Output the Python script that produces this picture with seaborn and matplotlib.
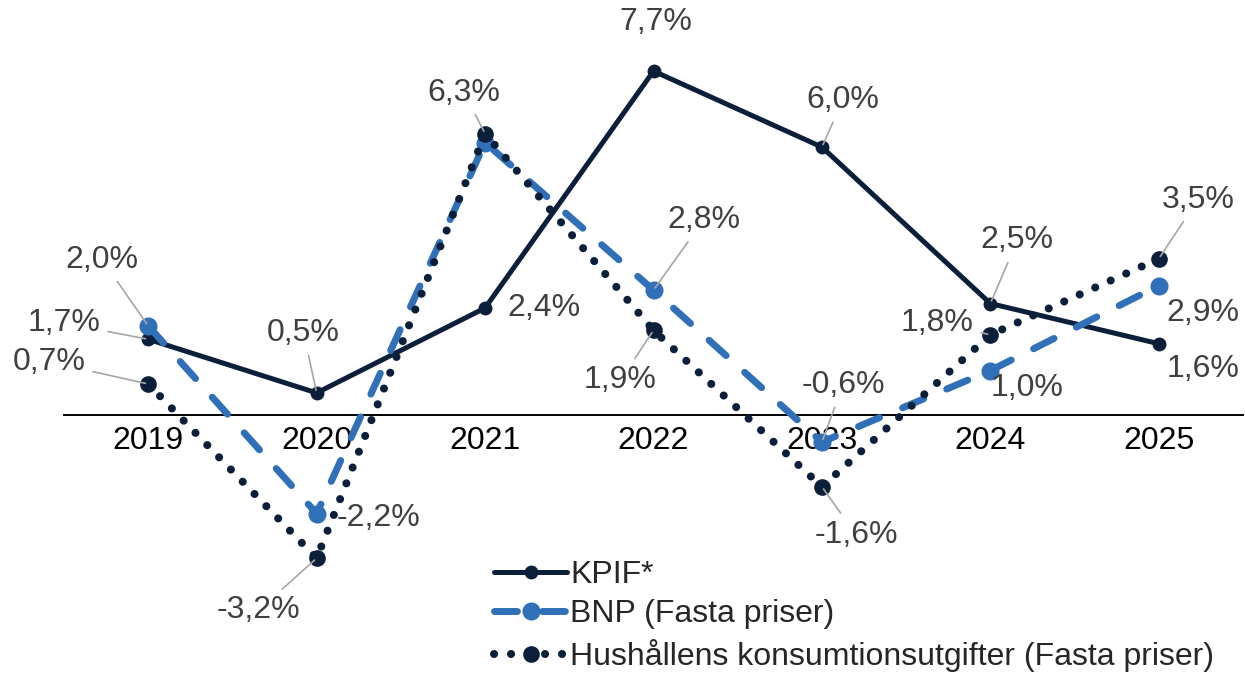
import matplotlib
matplotlib.use("Agg")
import matplotlib.pyplot as plt
import seaborn as sns
import pandas as pd

years = ["2019", "2020", "2021", "2022", "2023", "2024", "2025"]
kpif = [1.7, 0.5, 2.4, 7.7, 6.0, 2.5, 1.6]
bnp = [2.0, -2.2, 6.1, 2.8, -0.6, 1.0, 2.9]
hush = [0.7, -3.2, 6.3, 1.9, -1.6, 1.8, 3.5]
bnp_show = [True, True, False, True, True, True, True]
series_names = ["KPIF*", "BNP (Fasta priser)", "Hushållens konsumtionsutgifter (Fasta priser)"]

# label offsets in pixels (dx, dy up), and whether leader line drawn
kpif_off = [(-84, 16, True), (-13, 60, True), (59, 0, False), (2, 49, False),
            (21, 47, True), (27, 63, True), (44, -25, False)]
bnp_off = [(-46, 66, True), (62, -4, False), (0, 0, False), (50, 70, True),
           (21, 57, True), (37, -17, False), (44, -27, False)]
hush_off = [(-99, 22, True), (-58, -52, True), (-21, 41, True), (-33, -50, True),
            (34, -48, True), (-53, 12, True), (39, 59, True)]

sns.set_theme(style="white")
plt.rcParams["font.family"] = ["Liberation Sans", "DejaVu Sans"]

navy = "#0b1f3a"
blue = "#3070b8"
grey_txt = "#404040"
FS = 23

fig = plt.figure(figsize=(12.45, 6.75), dpi=100)
ax = fig.add_axes([64 / 1245, 1 - 594 / 675, (1243 - 64) / 1245, (594 - 13) / 675])

x = list(range(len(years)))
df = pd.DataFrame({"x": x, "kpif": kpif, "bnp": bnp, "hush": hush})

sns.lineplot(data=df, x="x", y="kpif", ax=ax, color=navy, lw=3.6, marker="o",
             markersize=10, markeredgewidth=0, label=series_names[0], zorder=3)
l1 = ax.lines[-1]
sns.lineplot(data=df, x="x", y="bnp", ax=ax, color=blue, lw=5, marker="o",
             markersize=13, markeredgewidth=0, label=series_names[1], zorder=4)
l2 = ax.lines[-1]
l2.set_dashes((3.3, 3.6))
l2.set_dash_capstyle("round")
sns.lineplot(data=df, x="x", y="hush", ax=ax, color=navy, lw=5.8, marker="o",
             markersize=12, markeredgewidth=0, label=series_names[2], zorder=5)
l3 = ax.lines[-1]
l3.set_dashes((0.01, 2.1))
l3.set_dash_capstyle("round")

ax.set_xlim(-0.5, 6.5)
ax.set_ylim(-4, 9)
ax.set_xlabel("")
ax.set_ylabel("")
ax.set_yticks([])
for s in ["top", "right", "left"]:
    ax.spines[s].set_visible(False)
ax.spines["bottom"].set_position(("data", 0))
ax.spines["bottom"].set_color("black")
ax.spines["bottom"].set_linewidth(1.4)
ax.set_xticks(x)
ax.set_xticklabels(years, fontsize=FS, color="black")
ax.tick_params(axis="x", which="major", length=0, pad=8)
ax.set_xticks([i - 0.5 for i in range(len(years) + 1)], minor=True)
ax.tick_params(axis="x", which="minor", length=10, width=1.4, color="black", direction="out")

def fmt(v):
    return f"{v:.1f}".replace(".", ",") + "%"

def annotate(vals, offs, show=None):
    for i, (v, (dx, dy, lead)) in enumerate(zip(vals, offs)):
        if show is not None and not show[i]:
            continue
        kw = {}
        if lead:
            kw["arrowprops"] = dict(arrowstyle="-", color="#a6a6a6", lw=1.2,
                                    shrinkA=3, shrinkB=2)
        ax.annotate(fmt(v), xy=(i, v), xytext=(dx, dy), textcoords="offset pixels",
                    ha="center", va="center", fontsize=FS, color=grey_txt,
                    zorder=6, **kw)

annotate(kpif, kpif_off)
annotate(bnp, bnp_off, bnp_show)
annotate(hush, hush_off)

ax.get_legend().remove()
fig.legend(handles=[l1, l2, l3], labels=series_names, loc="upper left",
           bbox_to_anchor=(481 / 1245, 1 - 547 / 675), frameon=False,
           fontsize=FS, handlelength=2.3, handletextpad=0.1, labelspacing=0.3,
           numpoints=1, borderaxespad=0)

fig.savefig("out.png", dpi=100)
